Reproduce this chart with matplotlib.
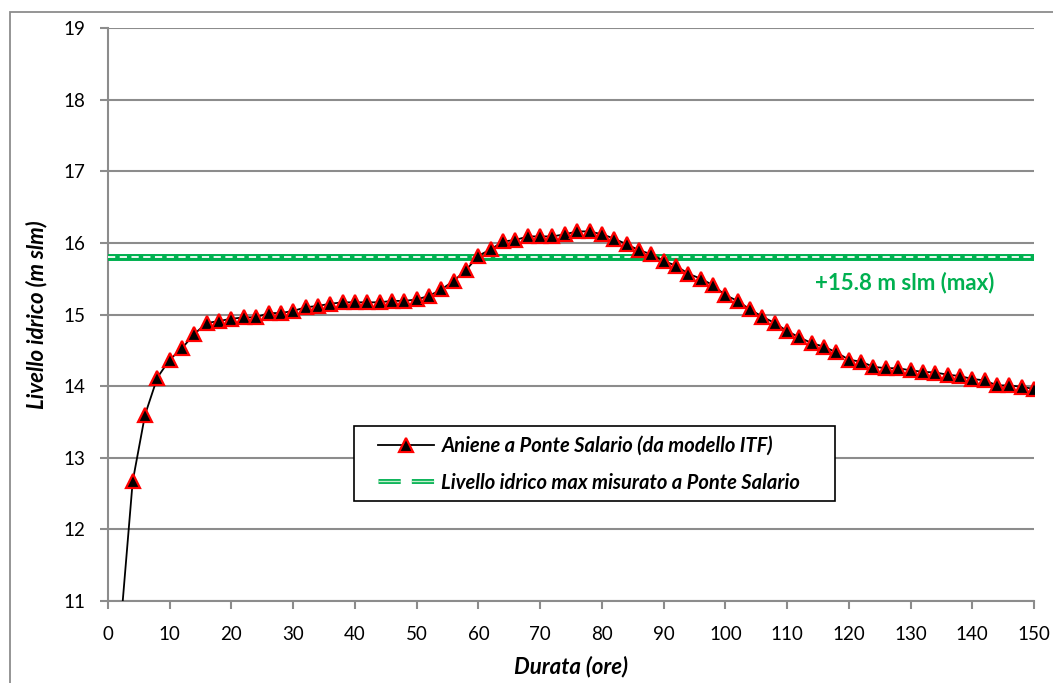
import matplotlib
matplotlib.use("Agg")
import matplotlib.pyplot as plt
from matplotlib.lines import Line2D
from matplotlib.patches import Rectangle
import matplotlib.patheffects as pe

plt.rcParams['font.family'] = ['Lato', 'DejaVu Sans']

durata = [2, 4, 6, 8, 10, 12, 14, 16, 18, 20, 22, 24, 26, 28, 30, 32, 34, 36, 38, 40,
          42, 44, 46, 48, 50, 52, 54, 56, 58, 60, 62, 64, 66, 68, 70, 72, 74, 76, 78, 80,
          82, 84, 86, 88, 90, 92, 94, 96, 98, 100, 102, 104, 106, 108, 110, 112, 114, 116, 118, 120,
          122, 124, 126, 128, 130, 132, 134, 136, 138, 140, 142, 144, 146, 148, 150]
livello = [10.6, 12.67, 13.60, 14.12, 14.37, 14.53, 14.73, 14.88, 14.91, 14.94, 14.96, 14.96, 15.02, 15.02, 15.05, 15.10, 15.12, 15.15, 15.17, 15.17,
           15.17, 15.17, 15.19, 15.19, 15.21, 15.26, 15.35, 15.47, 15.62, 15.82, 15.91, 16.02, 16.04, 16.09, 16.09, 16.09, 16.12, 16.16, 16.16, 16.12,
           16.06, 15.98, 15.90, 15.84, 15.75, 15.68, 15.57, 15.50, 15.41, 15.27, 15.19, 15.07, 14.97, 14.88, 14.77, 14.68, 14.60, 14.55, 14.47, 14.37,
           14.34, 14.27, 14.25, 14.25, 14.22, 14.20, 14.19, 14.16, 14.14, 14.10, 14.08, 14.01, 14.01, 13.99, 13.96]
livello_max = 15.8
x_ticks = list(range(0, 151, 10))
y_ticks = list(range(11, 20))

label_model = "Aniene a Ponte Salario (da modello ITF)"
label_max = "Livello idrico max misurato a Ponte Salario"
annot = "+15.8 m slm (max)"

W, H = 1053, 683
fig = plt.figure(figsize=(W/100, H/100), dpi=100)
ax = fig.add_axes([108/W, 1-601/H, (1034-108)/W, (601-28)/H])

# outer chart border
fig.patches.append(Rectangle((10/W, -0.1), 1.2, 1-12/H+0.1, transform=fig.transFigure,
                             fill=False, edgecolor='#8c8c8c', linewidth=1.3))

grid_c = '#8c8c8c'
ax.set_xlim(0, 150)
ax.set_ylim(11, 19)
ax.set_xticks(x_ticks)
ax.set_yticks(y_ticks)
ax.yaxis.grid(True, color=grid_c, linewidth=1.5)
ax.set_axisbelow(True)
for s in ['top', 'right']:
    ax.spines[s].set_visible(False)
for s in ['left', 'bottom']:
    ax.spines[s].set_color(grid_c)
    ax.spines[s].set_linewidth(1.5)
ax.tick_params(axis='both', colors=grid_c, length=6, width=1.5, labelcolor='black', labelsize=13.5)
ax.tick_params(axis='x', pad=12)
ax.tick_params(axis='y', pad=10)

green = '#00B050'
ax.axhline(livello_max, color=green, linewidth=5, zorder=3)
ax.axhline(livello_max, color='white', linewidth=1.3, dashes=(4, 2.5), zorder=3)

ax.plot(durata, livello, color='black', linewidth=1.3, marker='^', markersize=9.5,
        markerfacecolor='black', markeredgecolor='red', markeredgewidth=1.6,
        markevery=slice(1, None), zorder=4)

ax.text(129, 15.45, annot, color=green, fontsize=16, fontweight='bold', ha='center', va='center')

ax.set_xlabel('Durata (ore)', fontsize=16, fontweight='bold', style='italic', labelpad=9)
ax.set_ylabel('Livello idrico (m slm)', fontsize=16, fontweight='bold', style='italic', labelpad=12)

# legend frame drawn manually
frame = Rectangle((354/W, 1-501/H), (835-354)/W, (501-426)/H, transform=fig.transFigure,
                  facecolor='white', edgecolor='black', linewidth=1.2, zorder=6, clip_on=False)
ax.add_patch(frame)

h1 = Line2D([], [], color='black', linewidth=1.3, marker='^', markersize=9.5,
            markerfacecolor='black', markeredgecolor='red', markeredgewidth=1.6)
h2 = Line2D([], [], color='#c6efce', linewidth=1.0, dashes=(16, 8),
            path_effects=[pe.Stroke(linewidth=3.5, foreground=green), pe.Normal()])
leg = ax.legend([h1, h2], [label_model, label_max], loc='upper left',
                bbox_to_anchor=(378/W, 1-436/H), bbox_transform=fig.transFigure,
                frameon=False, borderpad=0, borderaxespad=0,
                prop={'size': 14.5, 'weight': 'bold', 'style': 'italic'},
                handlelength=2.8, labelspacing=0.82, handletextpad=0.35)
leg.set_zorder(7)

fig.savefig('out.png', dpi=100)
